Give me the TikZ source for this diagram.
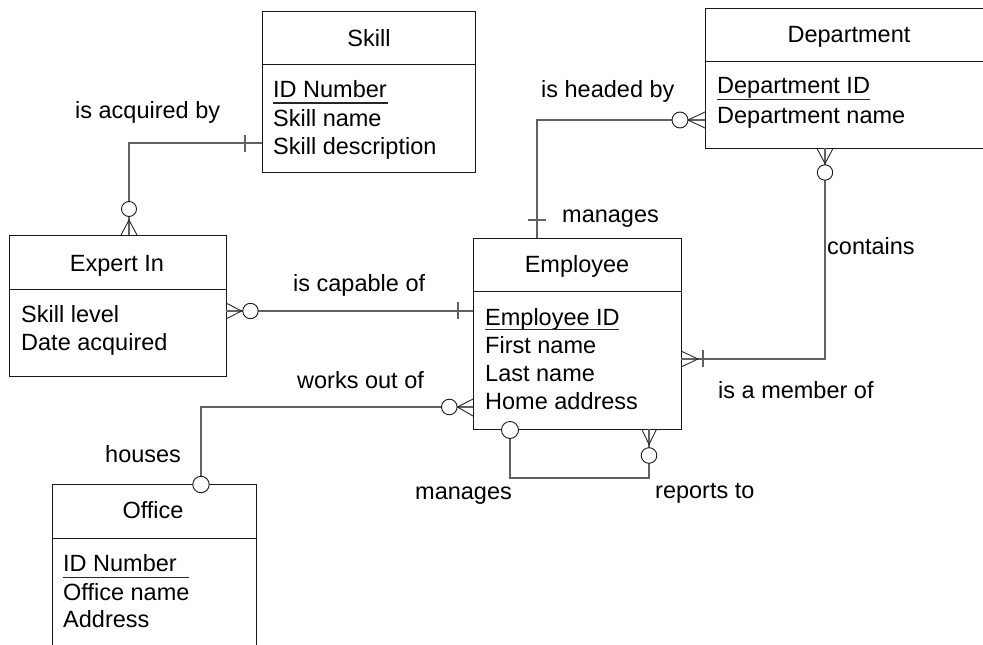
\documentclass[tikz,border=0pt]{standalone}
\usepackage{fontspec}
\setmainfont{Liberation Sans}
\begin{document}
\begin{tikzpicture}[x=1pt,y=-1pt,
  entity/.style={draw=black!90, line width=1pt, inner sep=0pt, outer sep=0pt, anchor=north west},
  divider/.style={draw=black!90, line width=1pt},
  title/.style={anchor=base, inner sep=0pt, font=\fontsize{23.5}{28}\selectfont},
  attr/.style={anchor=base west, inner sep=0pt, font=\fontsize{23.5}{28}\selectfont},
  rel/.style={anchor=base west, inner sep=0pt, font=\fontsize{23.5}{28}\selectfont},
  keyline/.style={draw=black!85, line width=1.3pt},
  conn/.style={draw=black!62, line width=1.4pt},
  bar/.style={draw=black!62, line width=1.2pt},
  crow/.style={draw=black!85, line width=0.9pt},
  ring/.style={draw=black!90, fill=white, line width=0.9pt}]
\useasboundingbox (0,0) rectangle (983,645);
\clip (0,0) rectangle (983,645);

% ---------- entity boxes ----------
\node[entity, minimum width=213pt, minimum height=161pt] (skill) at (262,11) {};
\node[entity, minimum width=288pt, minimum height=140pt] (dept) at (705,8) {};
\node[entity, minimum width=217pt, minimum height=141pt] (expert) at (9,235) {};
\node[entity, minimum width=208pt, minimum height=191pt] (emp) at (473,238) {};
\node[entity, minimum width=204pt, minimum height=200pt] (office) at (52,484) {};

% header dividers
\draw[divider] (skill.west |- 0,64) -- (skill.east |- 0,64);
\draw[divider] (dept.west |- 0,61) -- (dept.east |- 0,61);
\draw[divider] (expert.west |- 0,289) -- (expert.east |- 0,289);
\draw[divider] (emp.west |- 0,291) -- (emp.east |- 0,291);
\draw[divider] (office.west |- 0,538) -- (office.east |- 0,538);

% ---------- titles ----------
\node[title] (skillT) at (369,46) {Skill};
\node[title] (deptT) at (849,42) {Department};
\node[title] (expertT) at (117,271) {Expert In};
\node[title] (empT) at (577,272) {Employee};
\node[title] (officeT) at (153,518) {Office};

% ---------- attributes ----------
\node[attr] (sk1) at (273,97) {ID Number};
\node[attr] (sk2) at (273,126) {Skill name};
\node[attr] (sk3) at (273,154) {Skill description};
\draw[keyline] (273,103) -- (388,103);

\node[attr] (dp1) at (717,93) {Department ID};
\node[attr] (dp2) at (717,123) {Department name};
\draw[keyline] (717,99.5) -- (870,99.5);

\node[attr] (ex1) at (21,322) {Skill level};
\node[attr] (ex2) at (21,350) {Date acquired};

\node[attr] (em1) at (485,325) {Employee ID};
\node[attr] (em2) at (485,353) {First name};
\node[attr] (em3) at (485,381) {Last name};
\node[attr] (em4) at (485,409) {Home address};
\draw[keyline] (485,329.5) -- (619,329.5);

\node[attr] (of1) at (63,571) {ID Number};
\node[attr] (of2) at (63,600) {Office name};
\node[attr] (of3) at (63,627) {Address};
\draw[keyline] (63,577.5) -- (189,577.5);

% ---------- relationship labels ----------
\node[rel] (lAcq) at (75,118) {is acquired by};
\node[rel] (lHead) at (541,97) {is headed by};
\node[rel] (lMan1) at (562,222) {manages};
\node[rel] (lCont) at (827,254) {contains};
\node[rel] (lMem) at (718,398) {is a member of};
\node[rel] (lCap) at (293,291) {is capable of};
\node[rel] (lWork) at (297,388) {works out of};
\node[rel] (lHouse) at (105,462) {houses};
\node[rel] (lMan2) at (415,499) {manages};
\node[rel] (lRep) at (655,498) {reports to};

% ---------- connectors ----------
% Skill -- Expert In
\coordinate (skA) at (skill.west |- 0,143);
\coordinate (exA) at (expert.north -| 129,0);
\draw[conn] (skA) -| (exA);
\draw[bar] (245,135) -- (245,152);
\draw[crow] (121,235) -- (129,220) -- (137,235);
\draw[ring] (129,209) circle[radius=7.5];

% Expert In -- Employee
\coordinate (exB) at (expert.east |- 0,311);
\coordinate (emB) at (emp.west |- 0,311);
\draw[conn] (exB) -- (emB);
\draw[crow] (226,303) -- (241.5,311) -- (226,319);
\draw[bar] (458,302) -- (458,319);
\draw[ring] (250.5,311) circle[radius=7.7];

% Employee -- Office
\coordinate (emC) at (emp.west |- 0,407);
\coordinate (ofC) at (office.north -| 201,0);
\draw[conn] (emC) -| (ofC);
\draw[crow] (473,399) -- (457.5,407) -- (473,416);
\draw[ring] (449.3,407) circle[radius=7.8];
\draw[ring] (201,484.5) circle[radius=8.2];

% Department -- Employee (is headed by / manages)
\coordinate (dpD) at (dept.west |- 0,120);
\coordinate (emD) at (emp.north -| 537,0);
\draw[conn] (dpD) -| (emD);
\draw[crow] (705,112) -- (688,120) -- (705,128);
\draw[bar] (528,220) -- (546,220);
\draw[ring] (680,120) circle[radius=8];

% Department -- Employee (contains / is a member of)
\coordinate (dpE) at (dept.south -| 825,0);
\coordinate (emE) at (emp.east |- 0,359);
\draw[conn] (dpE) |- (emE);
\draw[crow] (816.7,148) -- (825,163.5) -- (833.3,148);
\draw[ring] (825,172.5) circle[radius=7.7];
\draw[crow] (681,351) -- (698,359) -- (681,367);
\draw[bar] (703,350) -- (703,367);

% Employee self relationship (manages / reports to)
\coordinate (emF) at (emp.south -| 510,0);
\coordinate (emG) at (emp.south -| 649,0);
\draw[conn] (emF) -- (510,478) -| (emG);
\draw[crow] (641.7,429) -- (649,444.5) -- (656.7,429);
\draw[ring] (510,430) circle[radius=8.5];
\draw[ring] (649,455.5) circle[radius=7.8];
\end{tikzpicture}
\end{document}
